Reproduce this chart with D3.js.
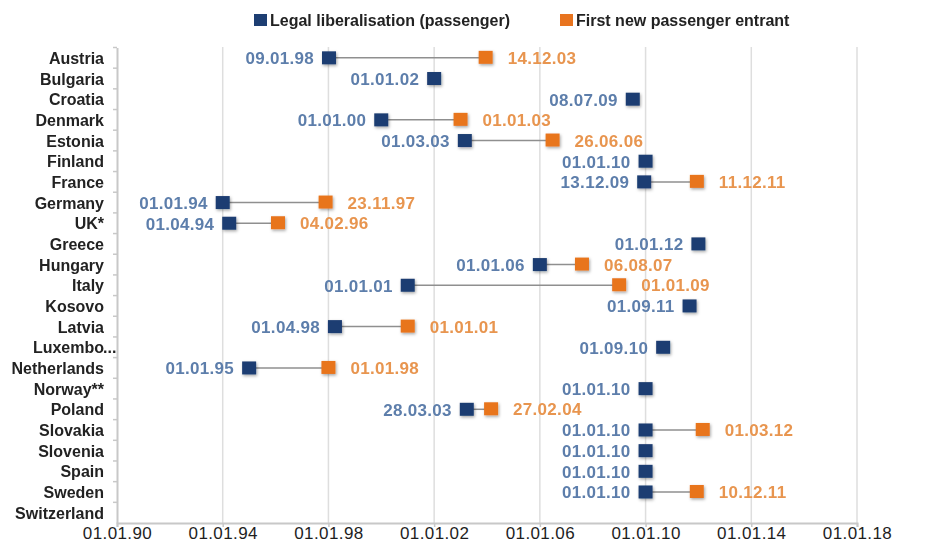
<!DOCTYPE html>
<html>
<head>
<meta charset="utf-8">
<script src="https://cdn.jsdelivr.net/npm/d3@7"></script>
<style>
  html, body { margin: 0; padding: 0; background: #fff; }
  svg { display: block; font-family: "Liberation Sans", Arial, sans-serif; }
</style>
</head>
<body>
<svg id="chart" width="925" height="544"></svg>
<script>
const categories = ["Austria","Bulgaria","Croatia","Denmark","Estonia","Finland","France","Germany","UK*","Greece","Hungary","Italy","Kosovo","Latvia","Luxembo...","Netherlands","Norway**","Poland","Slovakia","Slovenia","Spain","Sweden","Switzerland"];
const legalDates = ["09.01.98","01.01.02","08.07.09","01.01.00","01.03.03","01.01.10","13.12.09","01.01.94","01.04.94","01.01.12","01.01.06","01.01.01","01.09.11","01.04.98","01.09.10","01.01.95","01.01.10","28.03.03","01.01.10","01.01.10","01.01.10","01.01.10",null];
const entrantDates = ["14.12.03",null,null,"01.01.03","26.06.06",null,"11.12.11","23.11.97","04.02.96",null,"06.08.07","01.01.09",null,"01.01.01",null,"01.01.98",null,"27.02.04","01.03.12",null,null,"10.12.11",null];
const tickLabels = ["01.01.90","01.01.94","01.01.98","01.01.02","01.01.06","01.01.10","01.01.14","01.01.18"];
const seriesNames = ["Legal liberalisation (passenger)", "First new passenger entrant"];

const parse = d3.timeParse("%d.%m.%y");
const rows = categories.map((c, i) => ({
  cat: c,
  legal: legalDates[i] ? parse(legalDates[i]) : null,
  legalLabel: legalDates[i],
  entrant: entrantDates[i] ? parse(entrantDates[i]) : null,
  entrantLabel: entrantDates[i]
}));

const BLUE = "#1d3e72", BLUE_TXT = "#5d7eab";
const ORANGE = "#e8741f", ORANGE_TXT = "#e8954f";

const svg = d3.select("#chart");
const defs = svg.append("defs");
const f = defs.append("filter").attr("id","sh").attr("x","-50%").attr("y","-50%").attr("width","200%").attr("height","200%");
f.append("feDropShadow").attr("dx",1).attr("dy",1.5).attr("stdDeviation",1.6).attr("flood-color","#000").attr("flood-opacity",0.35);
const tf = defs.append("filter").attr("id","blur").attr("x","-10%").attr("y","-30%").attr("width","120%").attr("height","160%");
tf.append("feGaussianBlur").attr("stdDeviation",0.3);

const tickDates = tickLabels.map(parse);
const x = d3.scaleTime().domain([tickDates[0], tickDates[tickDates.length-1]]).range([117, 857]);
const y = d3.scaleBand().domain(categories).range([47.5, 523]).padding(0);
const cy = c => y(c) + y.bandwidth()/2;

// gridlines
svg.append("g").selectAll("line").data(tickDates.slice(1)).join("line")
  .attr("x1", d => x(d)).attr("x2", d => x(d))
  .attr("y1", 47).attr("y2", 523)
  .attr("stroke", "#dedede").attr("stroke-width", 1.5);

// x axis
const xAxis = d3.axisBottom(x).tickValues(tickDates).tickFormat(d3.timeFormat("%d.%m.%y")).tickSize(4).tickPadding(0);
const gx = svg.append("g").attr("transform", "translate(0,523)").call(xAxis);
gx.select(".domain").attr("stroke", "#c8c8c8").attr("stroke-width", 2);
gx.selectAll(".tick line").attr("stroke", "#c8c8c8").attr("stroke-width", 1.5);
gx.selectAll(".tick text").attr("fill", "#1e1e1e").attr("font-size", 17).attr("letter-spacing", 0.4)
  .attr("font-family", "Liberation Sans, Arial, sans-serif");

// y axis
const yAxis = d3.axisLeft(y).tickSize(0).tickFormat("");
const gy = svg.append("g").attr("transform", "translate(117,0)").call(yAxis);
gy.select(".domain").attr("stroke", "#c8c8c8").attr("stroke-width", 2);
// band boundary ticks
svg.append("g").selectAll("line").data(categories).join("line")
  .attr("x1", 113).attr("x2", 117)
  .attr("y1", d => y(d)).attr("y2", d => y(d))
  .attr("stroke", "#c8c8c8").attr("stroke-width", 1.5);

// category labels
const catG = svg.append("g").attr("font-size", 16).attr("font-weight", "bold").attr("fill", "#222").attr("filter","url(#blur)");
rows.forEach(r => {
  const trunc = r.cat.endsWith("...");
  const name = trunc ? r.cat.slice(0, -3) : r.cat;
  catG.append("text").attr("x", 104).attr("y", cy(r.cat) + 6).attr("text-anchor", "end").text(name);
  if (trunc) catG.append("text").attr("x", 103).attr("y", cy(r.cat) + 6).attr("text-anchor", "start").text("...");
});

// connectors
svg.append("g").selectAll("line").data(rows.filter(r => r.legal && r.entrant)).join("line")
  .attr("x1", d => x(d.legal)).attr("x2", d => x(d.entrant))
  .attr("y1", d => cy(d.cat)).attr("y2", d => cy(d.cat))
  .attr("stroke", "#8f8f8f").attr("stroke-width", 1.5);

// markers
const mk = svg.append("g").attr("filter", "url(#sh)");
mk.selectAll("rect.l").data(rows.filter(r => r.legal)).join("rect").attr("class","l")
  .attr("x", d => x(d.legal) - 7).attr("y", d => cy(d.cat) - 6.5)
  .attr("width", 14).attr("height", 13).attr("fill", BLUE);
mk.selectAll("rect.e").data(rows.filter(r => r.entrant)).join("rect").attr("class","e")
  .attr("x", d => x(d.entrant) - 7).attr("y", d => cy(d.cat) - 7)
  .attr("width", 14).attr("height", 13).attr("fill", ORANGE);

// data labels
const lab = svg.append("g").attr("font-size", 17).attr("font-weight", "bold").attr("letter-spacing", 0.3).attr("filter","url(#blur)");
lab.selectAll("text.l").data(rows.filter(r => r.legal)).join("text").attr("class","l")
  .attr("x", d => x(d.legal) - 15).attr("y", d => cy(d.cat) + 6.5)
  .attr("text-anchor", "end").attr("fill", BLUE_TXT).text(d => d.legalLabel);
lab.selectAll("text.e").data(rows.filter(r => r.entrant)).join("text").attr("class","e")
  .attr("x", d => x(d.entrant) + 22).attr("y", d => cy(d.cat) + 6)
  .attr("text-anchor", "start").attr("fill", ORANGE_TXT).text(d => d.entrantLabel);

// legend
const leg = svg.append("g").attr("font-size", 16).attr("font-weight", "bold").attr("fill", "#222");
const legendItems = [{name: seriesNames[0], color: BLUE, x: 254}, {name: seriesNames[1], color: ORANGE, x: 560}];
legendItems.forEach(it => {
  leg.append("rect").attr("x", it.x).attr("y", 14).attr("width", 13).attr("height", 12).attr("fill", it.color);
  leg.append("text").attr("x", it.x + 16).attr("y", 26).attr("filter","url(#blur)").text(it.name);
});
</script>
</body>
</html>
